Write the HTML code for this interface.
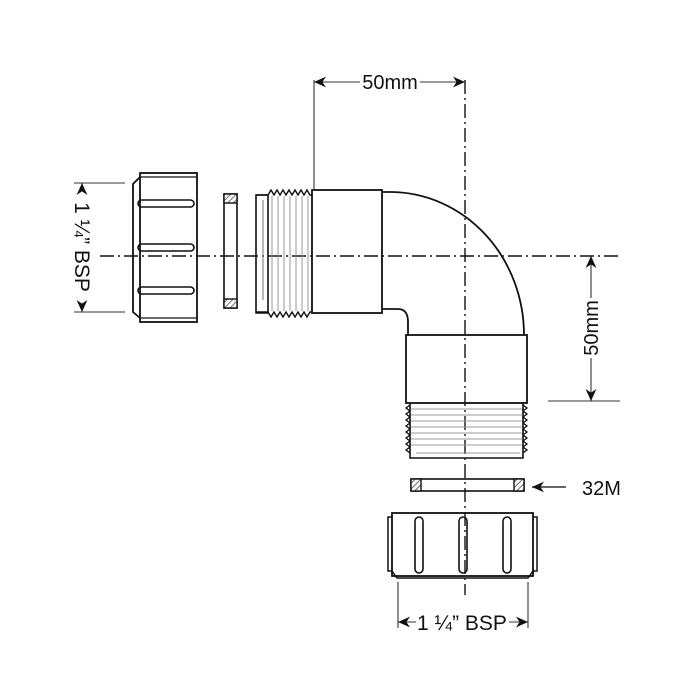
<!DOCTYPE html>
<html><head><meta charset="utf-8"><style>
html,body{margin:0;padding:0;background:#fff}
svg{display:block}
text{font-family:"Liberation Sans",sans-serif;fill:#111}
</style></head><body>
<svg width="700" height="700" viewBox="0 0 700 700" xmlns="http://www.w3.org/2000/svg">
<defs>
<pattern id="h" width="4" height="4" patternUnits="userSpaceOnUse" patternTransform="rotate(45)">
<rect width="4" height="4" fill="#fff"/><line x1="0" y1="0" x2="0" y2="4" stroke="#444" stroke-width="1.6"/></pattern>
<marker id="a" viewBox="0 0 10 10" refX="10" refY="5" markerWidth="12" markerHeight="12" orient="auto-start-reverse" markerUnits="userSpaceOnUse"><path d="M0,0.5 L10,5 L0,9.5 L3,5 Z" fill="#111"/></marker>
</defs>
<g stroke="#111" fill="none" stroke-width="1.2">
<line x1="100" y1="256" x2="618" y2="256" stroke-dasharray="14,4,2,4" stroke-width="1.4"/>
<line x1="465" y1="80" x2="465" y2="595" stroke-dasharray="14,4,2,4" stroke-width="1.4"/>

<rect x="140" y="173" width="57" height="149" fill="none" stroke-width="1.8"/>
<path d="M140,177 L133,184 L133,312 L140,318" stroke-width="1.8"/>
<line x1="140" y1="177" x2="197" y2="177"/>
<line x1="140" y1="318" x2="197" y2="318"/>
<rect x="138" y="200" width="56" height="7" rx="3.5" stroke-width="1.6"/>
<rect x="138" y="244" width="56" height="7" rx="3.5" stroke-width="1.6"/>
<rect x="138" y="287" width="56" height="7" rx="3.5" stroke-width="1.6"/>

<rect x="224" y="194" width="13" height="114" stroke-width="1.6"/>
<rect x="224" y="194" width="13" height="9" fill="url(#h)" stroke-width="1.4"/>
<rect x="224" y="299" width="13" height="9" fill="url(#h)" stroke-width="1.4"/>

<path d="M256,195 L268,195 L268,313 L256,313 Z" stroke-width="1.6"/>
<path d="M256,195 L268,195 l3,-5 l3,5 l3,-5 l3,5 l3,-5 l3,5 l3,-5 l3,5 l3,-5 l3,5 l3,-5 l3,5 l3,-5 l3,5 L312,195" stroke-width="1.4"/>
<path d="M256,312 L268,312 l3,5 l3,-5 l3,5 l3,-5 l3,5 l3,-5 l3,5 l3,-5 l3,5 l3,-5 l3,5 l3,-5 l3,5 l3,-5 L312,312" stroke-width="1.4"/>
<g stroke="#999" stroke-width="1">
<line x1="272" y1="196" x2="272" y2="311"/><line x1="278" y1="196" x2="278" y2="311"/><line x1="284" y1="196" x2="284" y2="311"/><line x1="290" y1="196" x2="290" y2="311"/><line x1="296" y1="196" x2="296" y2="311"/><line x1="302" y1="196" x2="302" y2="311"/><line x1="308" y1="196" x2="308" y2="311"/>
</g>
<line x1="263" y1="200" x2="263" y2="300" stroke="#888"/>

<rect x="312" y="190" width="70" height="123" stroke-width="1.8"/>
<path d="M382,192 L392,192 A134,143 0 0 1 524,335" stroke-width="1.8"/>
<path d="M382,309 L398,309 Q408,309 408,322 L408,335" stroke-width="1.8"/>
<rect x="406" y="335" width="121" height="68" stroke-width="1.8"/>

<path d="M410,403 L410,458 L523,458 L523,403" stroke-width="1.6"/>
<path d="M410,405 l-4,3 l4,3 l-4,3 l4,3 l-4,3 l4,3 l-4,3 l4,3 l-4,3 l4,3 l-4,3 l4,3 l-4,3 l4,3 l-4,3 l4,3" stroke-width="1.3"/>
<path d="M523,405 l4,3 l-4,3 l4,3 l-4,3 l4,3 l-4,3 l4,3 l-4,3 l4,3 l-4,3 l4,3 l-4,3 l4,3 l-4,3 l4,3 l-4,3" stroke-width="1.3"/>
<g stroke="#999" stroke-width="1">
<line x1="411" y1="409" x2="522" y2="409"/><line x1="411" y1="415" x2="522" y2="415"/><line x1="411" y1="421" x2="522" y2="421"/><line x1="411" y1="427" x2="522" y2="427"/><line x1="411" y1="433" x2="522" y2="433"/><line x1="411" y1="439" x2="522" y2="439"/><line x1="411" y1="445" x2="522" y2="445"/><line x1="416" y1="453" x2="520" y2="453"/>
</g>

<rect x="411" y="479" width="113" height="12" stroke-width="1.6"/>
<rect x="411" y="479" width="10" height="12" fill="url(#h)" stroke-width="1.4"/>
<rect x="514" y="479" width="10" height="12" fill="url(#h)" stroke-width="1.4"/>

<rect x="392" y="513" width="141" height="63" stroke-width="1.8"/>
<path d="M392,517 L388,517 L388,571 L392,571 M533,517 L537,517 L537,571 L533,571" stroke-width="1.5"/>
<path d="M392,571 L397,578 L528,578 L533,571" stroke-width="1.5"/>
<rect x="415" y="517" width="8" height="56" rx="4" stroke-width="1.6"/>
<rect x="459" y="517" width="8" height="56" rx="4" stroke-width="1.6"/>
<rect x="503" y="517" width="8" height="56" rx="4" stroke-width="1.6"/>

<g stroke="#333" stroke-width="1.1">
<line x1="314" y1="80" x2="314" y2="190"/>
<line x1="314" y1="82" x2="360" y2="82" marker-start="url(#a)"/>
<line x1="420" y1="82" x2="465" y2="82" marker-end="url(#a)"/>
<line x1="74" y1="183" x2="125" y2="183"/>
<line x1="74" y1="312" x2="125" y2="312"/>
<line x1="82" y1="183" x2="82" y2="190" marker-start="url(#a)"/>
<line x1="82" y1="305" x2="82" y2="312" marker-end="url(#a)"/>
<line x1="548" y1="401" x2="620" y2="401"/>
<line x1="591" y1="256" x2="591" y2="298" marker-start="url(#a)"/>
<line x1="591" y1="358" x2="591" y2="401" marker-end="url(#a)"/>
<line x1="398" y1="582" x2="398" y2="628"/>
<line x1="528" y1="582" x2="528" y2="628"/>
<line x1="398" y1="622" x2="416" y2="622" marker-start="url(#a)"/>
<line x1="509" y1="622" x2="528" y2="622" marker-end="url(#a)"/>
<line x1="532" y1="487" x2="566" y2="487" marker-start="url(#a)" stroke-width="1.5"/>
</g>
</g>
<text x="390" y="89" font-size="20" text-anchor="middle">50mm</text>
<text x="462" y="630" font-size="21" text-anchor="middle">1 ¼” BSP</text>
<text x="582" y="495" font-size="20">32M</text>
<text transform="translate(75,247) rotate(90)" font-size="21" text-anchor="middle">1 ¼” BSP</text>
<text transform="translate(598,328) rotate(-90)" font-size="20" text-anchor="middle">50mm</text>
</svg>
</body></html>
